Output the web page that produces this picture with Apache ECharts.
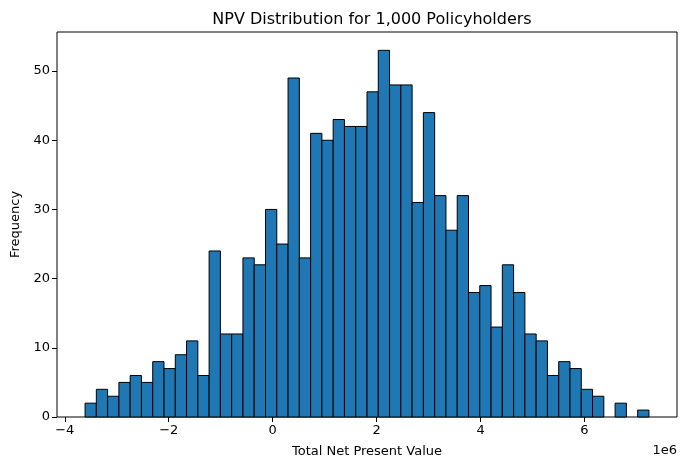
<!DOCTYPE html>
<html>
<head>
<meta charset="utf-8">
<script src="https://cdn.jsdelivr.net/npm/echarts@6/dist/echarts.min.js"></script>
<style>
  html, body { margin: 0; padding: 0; background: #fff; }
  #main { width: 686px; height: 470px; }
</style>
</head>
<body>
<div id="main"></div>
<script>
// histogram: 50 bins, counts
var binStart = -3.61e6;
var binWidth = 0.217e6;
var counts = [2, 4, 3, 5, 6, 5, 8, 7, 9, 11,
              6, 24, 12, 12, 23, 22, 30, 25, 49, 23,
              41, 40, 43, 42, 42, 47, 53, 48, 48, 31,
              44, 32, 27, 32, 18, 19, 13, 22, 18, 12,
              11, 6, 8, 7, 4, 3, 0, 2, 0, 1];
var xTicks = [-4e6, -2e6, 0, 2e6, 4e6, 6e6];
var yTicks = [0, 10, 20, 30, 40, 50];

var bins = counts.map(function (c, i) {
    return [binStart + i * binWidth, binStart + (i + 1) * binWidth, c];
});

var font = 'DejaVu Sans';
var chart = echarts.init(document.getElementById('main'));

var option = {
    animation: false,
    backgroundColor: '#fff',
    textStyle: { fontFamily: font },
    title: {
        text: 'NPV Distribution for 1,000 Policyholders',
        left: 367,
        top: 7,
        textAlign: 'center',
        textStyle: { fontFamily: font, fontSize: 16, fontWeight: 'normal', color: '#000' }
    },
    grid: {
        left: 57, right: 9, top: 32, bottom: 53,
        show: true, borderColor: '#000', borderWidth: 1, backgroundColor: 'transparent'
    },
    xAxis: {
        type: 'value',
        min: -4.15e6,
        max: 7.78e6,
        name: 'Total Net Present Value',
        nameLocation: 'middle',
        nameGap: 28,
        nameTextStyle: { fontFamily: font, fontSize: 13, color: '#000' },
        axisLine: { show: false, onZero: false },
        axisTick: { show: true, length: 5, customValues: xTicks, lineStyle: { color: '#000' } },
        axisLabel: {
            customValues: xTicks,
            fontFamily: font, fontSize: 13, color: '#000', margin: 7,
            formatter: function (v) {
                var n = Math.round(v / 1e6);
                return n < 0 ? '\u2212' + Math.abs(n) : String(n);
            }
        },
        splitLine: { show: false }
    },
    yAxis: {
        type: 'value',
        min: 0,
        max: 55.65,
        name: 'Frequency',
        nameLocation: 'middle',
        nameGap: 34,
        nameTextStyle: { fontFamily: font, fontSize: 13, color: '#000' },
        axisLine: { show: false, onZero: false },
        axisTick: { show: true, length: 5, customValues: yTicks, lineStyle: { color: '#000' } },
        axisLabel: { customValues: yTicks, fontFamily: font, fontSize: 13, color: '#000', margin: 7 },
        splitLine: { show: false }
    },
    graphic: [{
        type: 'text',
        right: 9,
        top: 444,
        style: { text: '1e6', fontFamily: font, fontSize: 13, fill: '#000' }
    }],
    series: [{
        type: 'custom',
        data: bins,
        encode: { x: [0, 1], y: 2 },
        renderItem: function (params, api) {
            if (api.value(2) <= 0) return null;
            var p0 = api.coord([api.value(0), api.value(2)]);
            var p1 = api.coord([api.value(1), 0]);
            return {
                type: 'rect',
                shape: { x: p0[0], y: p0[1], width: p1[0] - p0[0], height: p1[1] - p0[1] },
                style: { fill: '#1f77b4', stroke: '#000', lineWidth: 1 }
            };
        }
    }]
};

chart.setOption(option);
</script>
</body>
</html>
